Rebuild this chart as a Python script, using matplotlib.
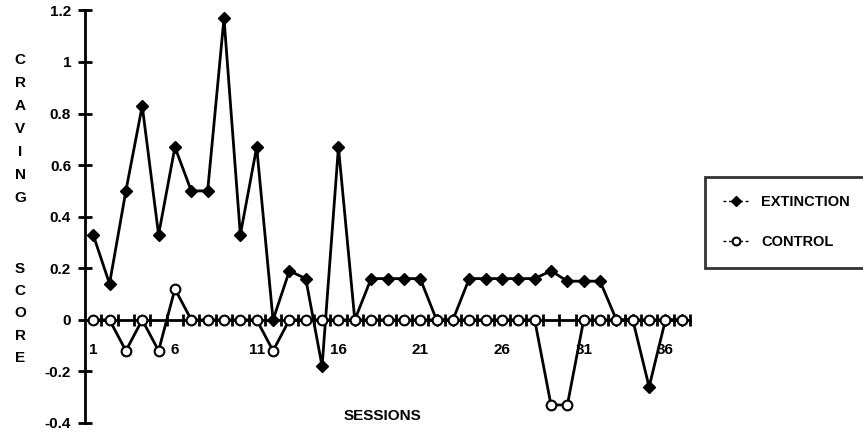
import numpy as np
import matplotlib.pyplot as plt

# Craving score per session for the two groups
sessions = list(range(1, 38))
extinction = [0.33, 0.14, 0.5, 0.83, 0.33, 0.67, 0.5, 0.5, 1.17, 0.33,
              0.67, 0.0, 0.19, 0.16, -0.18, 0.67, 0.0, 0.16, 0.16, 0.16,
              0.16, 0.0, 0.0, 0.16, 0.16, 0.16, 0.16, 0.16, 0.19, 0.15,
              0.15, 0.15, 0.0, 0.0, -0.26, 0.0, 0.0]
control = [0.0, 0.0, -0.12, 0.0, -0.12, 0.12, 0.0, 0.0, 0.0, 0.0,
           0.0, -0.12, 0.0, 0.0, 0.0, 0.0, 0.0, 0.0, 0.0, 0.0,
           0.0, 0.0, 0.0, 0.0, 0.0, 0.0, 0.0, 0.0, -0.33, -0.33,
           0.0, 0.0, 0.0, 0.0, 0.0, 0.0, 0.0]

label_sessions = [1, 6, 11, 16, 21, 26, 31, 36]
y_ticks = [-0.4, -0.2, 0, 0.2, 0.4, 0.6, 0.8, 1.0, 1.2]
y_labels = ['-0.4', '-0.2', '0', '0.2', '0.4', '0.6', '0.8', '1', '1.2']

plt.rcParams['font.family'] = ['Liberation Sans', 'DejaVu Sans']

fig = plt.figure(figsize=(8.63, 4.32), dpi=100)
ax = fig.add_axes([85 / 863, 1 - 423 / 432, 605 / 863, 412.6 / 432])

ax.plot(sessions, extinction, color='black', lw=2, marker='D', ms=6.5,
        mfc='black', mec='black', zorder=3, label='EXTINCTION')
ax.plot(sessions, control, color='black', lw=2, marker='o', ms=7,
        mfc='white', mec='black', mew=1.5, zorder=4, label='CONTROL')

ax.set_xlim(0.5, 37.5)
ax.set_ylim(-0.4, 1.2)

# axis through zero, ticks between sessions
for side in ['top', 'right']:
    ax.spines[side].set_visible(False)
ax.spines['bottom'].set_position(('data', 0))
ax.spines['bottom'].set_linewidth(2)
ax.spines['left'].set_linewidth(2)

ax.set_xticks(np.arange(1.5, 38, 1))
ax.set_xticklabels([])
ax.set_xticks(label_sessions, minor=True)
ax.set_xticklabels([str(s) for s in label_sessions], minor=True,
                   fontsize=11, fontweight='bold')
ax.tick_params(axis='x', which='major', direction='inout', length=9, width=2)
ax.tick_params(axis='x', which='minor', length=0, pad=17)

ax.set_yticks(y_ticks)
ax.set_yticklabels(y_labels, fontsize=11, fontweight='bold')
ax.tick_params(axis='y', direction='inout', length=10, width=2, pad=5)

# stacked axis title
for letter, ypix in zip('CRAVING', [60, 83, 106, 129, 152, 175, 198]):
    fig.text(20 / 863, 1 - ypix / 432, letter, ha='center', va='center',
             fontsize=11, fontweight='bold')
for letter, ypix in zip('SCORE', [269, 291, 313, 336, 358]):
    fig.text(20 / 863, 1 - ypix / 432, letter, ha='center', va='center',
             fontsize=11, fontweight='bold')

fig.text(382 / 863, 1 - 416 / 432, 'SESSIONS', ha='center', va='center',
         fontsize=11, fontweight='bold')

leg = ax.legend(loc='upper left', bbox_to_anchor=(705 / 863, 1 - 262 / 432, 0.25, 85 / 432),
                bbox_transform=fig.transFigure, mode='expand', borderaxespad=0,
                fancybox=False, edgecolor='black',
                prop={'size': 10.5, 'weight': 'bold'},
                handlelength=1.8, handletextpad=0.8, labelspacing=1.8,
                borderpad=1.25, markerscale=0.8)
leg.get_frame().set_linewidth(2)
for line in leg.get_lines():
    line.set_linewidth(1)
    line.set_linestyle((0, (2, 2)))

fig.savefig('out.png', dpi=100)
